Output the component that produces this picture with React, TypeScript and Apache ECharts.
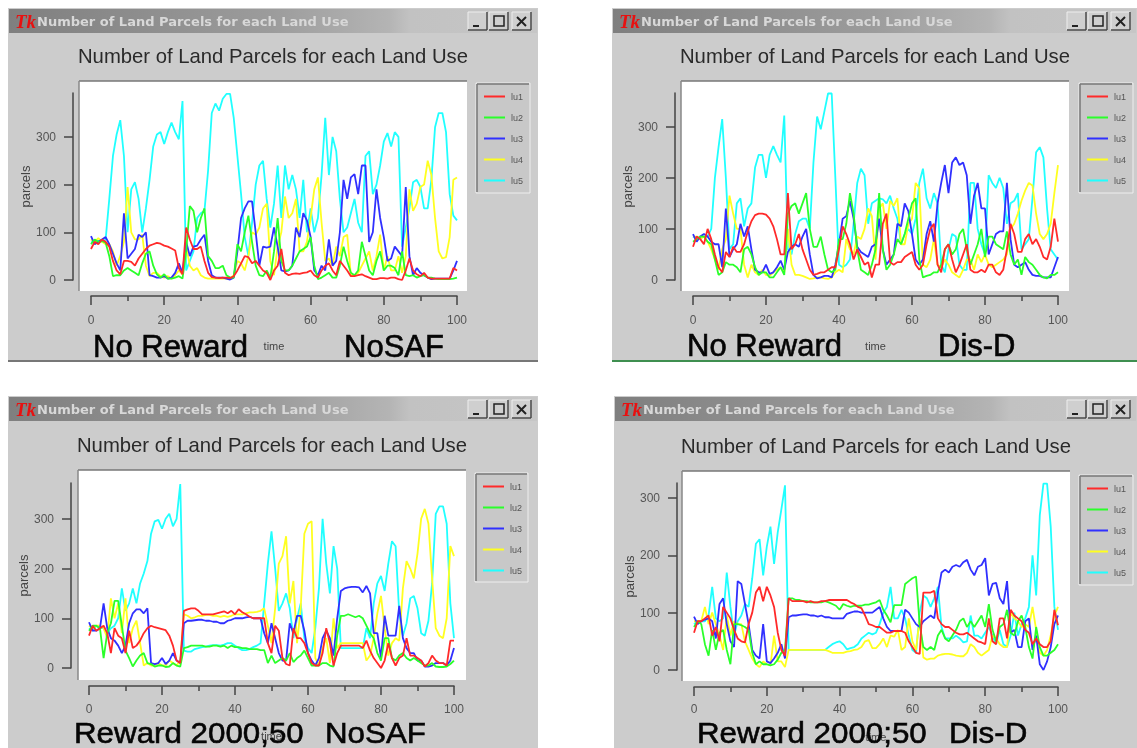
import React, { useEffect, useRef } from "react";
import * as echarts from "echarts";

const seriesNames = ["lu1", "lu2", "lu3", "lu4", "lu5"];
const chartTitle = "Number of Land Parcels for each Land Use";
const xLabelTicks = [0, 20, 40, 60, 80, 100];

// Panel 1: No Reward / NoSAF
const p1Lu1 = [65,80,75,85,80,70,40,20,12,40,
  40,38,30,45,55,65,72,75,78,76,
  72,70,66,62,25,12,110,85,65,65,
  70,40,15,6,5,4,5,5,4,8,
  20,35,50,48,35,40,30,20,15,0,
  20,30,65,15,10,13,14,13,15,16,
  20,10,5,20,30,35,20,10,40,30,
  20,8,8,10,12,8,5,2,2,4,
  4,3,5,5,2,0,20,45,20,12,
  8,15,5,3,3,3,3,3,3,25,20];
const p1Lu2 = [75,85,80,82,78,50,8,10,10,20,
  25,20,15,10,35,55,60,30,12,5,
  12,3,3,5,8,3,60,155,145,100,
  130,150,50,40,25,25,30,10,5,5,
  75,60,100,135,80,30,10,8,20,5,
  60,130,40,20,20,30,45,60,65,70,
  90,30,2,5,10,15,5,5,30,70,
  40,15,10,20,80,50,20,10,40,60,
  20,30,30,25,10,60,10,8,10,5,
  8,10,5,5,3,2,2,2,2,3,5];
const p1Lu3 = [92,75,80,85,90,75,55,35,20,140,
  45,55,65,95,90,100,10,8,5,5,
  8,3,5,15,35,15,80,50,70,72,
  85,95,40,10,5,5,5,3,1,5,
  60,130,150,165,165,100,30,70,68,70,
  110,70,20,18,20,30,110,90,140,125,
  90,20,10,30,20,85,30,40,100,210,
  170,215,222,180,240,240,80,100,190,130,
  90,40,45,70,60,50,195,50,10,25,
  15,10,5,2,3,3,3,3,3,20,40];
const p1Lu4 = [85,80,88,80,75,75,60,30,50,80,
  195,100,85,85,95,30,8,15,15,8,
  5,8,3,10,20,12,70,30,20,25,
  10,5,3,3,3,3,3,3,3,10,
  40,35,20,50,100,95,110,150,160,40,
  10,70,100,175,130,140,170,60,60,80,
  130,190,215,120,40,45,30,70,50,90,
  95,10,10,15,30,45,60,20,50,95,
  20,50,20,20,50,15,50,190,145,160,
  195,200,250,220,130,60,45,48,90,210,215];
const p1Lu5 = [80,78,82,80,85,170,260,305,335,260,
  100,190,205,170,100,150,210,280,305,310,
  285,310,330,310,295,375,20,40,60,130,
  140,145,230,350,370,355,380,390,390,340,
  260,180,90,50,120,200,240,250,170,110,
  160,240,130,240,190,220,190,130,210,100,
  150,100,130,220,340,220,300,270,170,100,
  110,140,170,120,100,260,270,180,200,240,
  290,308,280,310,300,70,110,150,205,210,
  195,150,150,210,320,350,350,310,180,135,125];

// Panel 2: No Reward / Dis-D
const p2Lu1 = [65,85,80,70,100,80,50,25,15,55,
  45,65,55,55,70,95,115,127,130,130,
  128,120,105,80,50,50,170,60,70,90,
  60,40,20,10,12,15,15,20,25,25,
  60,105,90,70,40,60,45,30,35,5,
  30,30,110,130,35,30,35,35,45,50,
  55,30,20,30,70,100,110,30,15,60,
  70,40,15,30,50,70,20,15,15,20,
  15,30,30,15,10,20,60,110,90,55,
  55,80,90,70,80,65,45,40,65,120,75];
const p2Lu2 = [75,80,85,85,75,70,40,10,15,35,
  30,30,25,15,60,65,50,25,10,15,
  15,5,5,15,25,10,130,145,150,130,
  150,170,100,65,65,85,50,20,15,20,
  80,80,110,170,130,60,20,15,10,30,
  60,170,60,20,30,50,80,70,90,120,
  150,160,40,5,8,10,15,15,30,60,
  70,50,60,90,100,60,30,50,70,100,
  45,85,85,70,65,60,95,50,30,40,
  10,45,35,30,20,10,5,3,10,10,15];
const p2Lu3 = [90,75,85,90,85,75,70,70,25,140,
  45,60,70,110,85,105,60,20,15,15,
  30,12,15,25,38,20,55,65,70,65,
  85,100,50,10,3,5,8,8,5,30,
  70,120,125,155,120,65,55,50,45,65,
  70,120,60,30,40,50,110,105,150,135,
  90,40,30,40,90,115,75,150,190,225,
  170,230,240,225,230,205,110,165,190,140,
  140,50,70,90,95,95,190,80,30,25,
  30,35,20,10,8,8,5,5,5,25,45];
const p2Lu4 = [85,85,80,85,75,60,40,20,60,80,
  165,130,100,100,30,5,30,15,10,20,
  10,8,15,20,25,15,100,30,10,10,
  8,5,2,3,5,5,3,2,5,15,
  20,15,80,60,50,85,80,100,140,125,
  40,140,150,100,155,145,160,70,70,110,
  120,190,180,30,25,40,80,30,25,40,
  30,15,10,5,20,40,40,20,50,35,
  50,30,25,30,35,40,50,100,110,130,
  155,175,190,185,130,90,80,90,110,170,225];
const p2Lu5 = [85,80,85,85,85,100,200,260,315,200,
  60,70,150,160,105,140,150,220,245,245,
  200,245,262,245,230,322,60,50,90,115,
  120,120,100,230,320,295,330,365,365,200,
  30,25,30,40,110,190,218,205,110,150,
  155,160,158,150,165,140,120,70,90,100,
  90,120,190,218,160,140,170,150,30,15,
  60,90,85,30,20,20,190,190,100,70,
  50,205,190,180,200,180,110,150,155,170,
  60,70,80,160,250,260,240,140,60,50,40];

// Panel 3: Reward 2000;50 / NoSAF
const p3Lu1 = [65,85,75,80,85,70,30,80,65,60,
  30,75,40,45,55,70,80,85,82,80,
  78,76,65,45,15,10,115,118,120,120,
  115,108,108,108,108,110,112,114,110,115,
  108,118,112,108,103,100,100,100,100,50,
  30,85,75,20,8,5,80,60,60,50,
  30,10,5,5,30,80,50,5,30,45,
  45,45,45,45,45,40,55,35,20,10,
  0,15,50,20,5,20,25,60,25,25,
  20,15,3,10,25,15,10,10,5,55,55];
const p3Lu2 = [75,85,85,80,20,70,90,135,135,85,
  35,20,3,15,25,30,10,8,3,5,
  5,2,3,10,5,3,40,42,45,45,
  45,45,43,43,45,45,43,45,40,45,
  42,42,40,40,38,38,38,36,36,10,
  25,10,15,20,15,30,12,20,25,35,
  20,5,5,5,10,10,5,3,65,105,
  105,108,105,102,105,100,85,70,60,30,
  15,60,60,20,15,25,30,20,15,20,
  15,10,5,5,10,3,2,2,3,8,15];
const p3Lu3 = [92,75,75,80,130,80,60,55,45,30,
  45,90,110,118,118,110,120,10,8,10,
  20,8,15,30,15,10,90,95,95,96,
  97,97,95,95,93,93,90,90,95,97,
  100,100,100,102,103,100,100,100,70,50,
  90,60,30,15,15,90,70,105,105,75,
  30,15,5,20,60,75,60,25,100,155,
  160,162,163,163,162,152,165,150,70,70,
  20,105,65,65,65,125,60,40,30,30,
  15,15,3,3,5,10,10,10,5,15,40];
const p3Lu4 = [85,80,85,85,80,60,140,100,130,70,
  140,50,80,95,50,5,10,5,5,10,
  5,5,15,10,5,15,108,105,100,102,
  105,105,107,107,105,105,103,105,103,105,
  108,108,108,110,112,112,113,115,120,85,
  50,120,210,225,265,130,175,50,120,270,
  290,295,20,5,40,60,10,100,40,50,
  50,50,50,50,50,50,15,25,60,110,
  145,80,25,50,60,55,160,215,200,180,
  230,300,320,290,180,80,65,60,100,245,225];
const p3Lu5 = [80,75,85,80,80,70,80,85,100,160,
  115,130,160,130,170,190,215,270,295,298,
  280,300,310,285,300,370,35,33,33,38,
  40,42,43,45,46,46,45,47,50,50,
  45,40,36,36,38,42,45,50,130,210,
  275,200,115,130,150,120,60,100,130,60,
  40,30,80,160,300,210,150,245,200,40,
  40,40,40,40,40,40,80,60,130,170,
  185,155,210,255,245,110,65,90,140,145,
  120,70,65,95,170,310,325,325,290,130,60];

// Panel 4: Reward 2000;50 / Dis-D
const p4Lu1 = [65,85,85,90,95,60,75,50,110,100,
  90,70,55,50,48,80,100,135,145,120,
  145,130,110,65,35,25,125,120,120,120,
  120,118,120,118,118,120,120,122,122,122,
  122,122,122,118,115,110,108,95,80,78,
  75,75,70,65,65,68,68,68,65,50,
  40,30,28,135,135,135,138,90,80,75,
  75,70,65,62,62,65,60,55,50,48,
  45,90,50,45,90,90,55,105,95,90,
  85,70,65,45,55,45,40,40,50,105,78];
const p4Lu2 = [75,85,80,45,25,70,35,65,70,35,
  10,80,80,78,75,70,30,10,15,10,
  10,8,10,18,30,35,125,125,122,122,
  120,120,118,118,118,118,120,118,115,112,
  105,115,112,110,112,112,112,114,114,116,
  118,122,105,95,83,113,113,113,150,155,
  160,163,80,40,35,40,35,60,70,55,
  50,60,70,85,90,75,85,75,85,95,
  75,115,70,50,75,80,105,65,60,85,
  95,75,40,20,75,40,25,25,30,35,45];
const p4Lu3 = [93,80,85,88,90,85,55,115,125,80,
  50,40,155,150,115,80,35,25,20,80,
  15,12,20,30,45,20,92,95,95,96,
  97,97,95,95,93,95,92,92,90,90,
  90,90,98,100,102,102,100,100,100,100,
  105,110,90,75,68,68,68,68,105,100,
  90,80,75,85,90,95,90,135,170,175,
  170,180,183,180,188,192,175,165,180,183,
  195,130,150,152,125,115,155,65,70,40,
  40,85,90,35,60,10,0,15,40,80,95];
const p4Lu4 = [85,85,85,110,80,100,80,60,35,95,
  60,85,80,80,50,35,20,10,5,15,
  10,8,60,15,15,5,35,35,35,35,
  35,35,35,35,35,35,35,33,30,30,
  30,30,32,33,35,36,40,50,52,38,
  38,45,55,40,60,58,70,35,40,90,
  50,35,90,22,18,20,20,25,27,28,
  28,27,25,24,24,30,45,40,30,25,
  30,35,60,55,45,40,40,100,90,85,
  75,80,75,110,70,30,25,35,60,95,110];
const p4Lu5 = [80,85,85,85,95,145,90,85,90,170,
  110,60,85,95,115,110,160,220,228,165,
  215,250,185,240,280,322,35,35,35,35,
  35,35,35,35,35,35,35,40,45,48,
  50,45,36,38,40,45,55,60,65,62,
  65,80,100,110,145,90,90,105,90,60,
  35,30,100,130,125,110,125,145,75,55,
  55,55,60,55,48,50,95,60,60,55,
  65,75,60,45,70,45,40,60,100,60,
  80,90,110,200,130,270,325,325,250,110,70];

const panelSeries = [
  [p1Lu1, p1Lu2, p1Lu3, p1Lu4, p1Lu5],
  [p2Lu1, p2Lu2, p2Lu3, p2Lu4, p2Lu5],
  [p3Lu1, p3Lu2, p3Lu3, p3Lu4, p3Lu5],
  [p4Lu1, p4Lu2, p4Lu3, p4Lu4, p4Lu5],
];
const yMajor = [
  [0, 100, 200, 300],
  [0, 100, 200, 300],
  [0, 100, 200, 300],
  [0, 100, 200, 300],
];
const yMinor = [
  [50, 150, 250, 350],
  [50, 150, 250, 350],
  [50, 150, 250, 350],
  [50, 150, 250],
];
const yMax = [392, 366, 372, 326];
const captions = [
  ["No Reward", "NoSAF"],
  ["No Reward", "Dis-D"],
  ["Reward 2000;50", "NoSAF"],
  ["Reward 2000;50", "Dis-D"],
];

// Layout (pixels)
const layouts = [
  { win: [8, 8, 538, 361], plot: [79, 81, 467, 291], gx: [91, 457], gy: [93, 280], ax: 73, xa: 296, leg: [476, 83, 530, 193], cap: [[93, 346], [344, 346]], capSize: 31, capStretch: 1, bottom: "#777777", titleTop: 46, labelGap: 18 },
  { win: [612, 8, 1137, 361], plot: [681, 81, 1069, 291], gx: [693, 1058], gy: [93, 280], ax: 675, xa: 296, leg: [1079, 83, 1133, 193], cap: [[687, 345], [938, 345]], capSize: 31, capStretch: 1, bottom: "#3f8f50", titleTop: 46, labelGap: 18 },
  { win: [8, 396, 538, 748], plot: [78, 470, 466, 680], gx: [89, 454], gy: [483, 668], ax: 71, xa: 686, leg: [475, 473, 528, 582], cap: [[74, 732], [325, 732]], capSize: 30, capStretch: 1.044, bottom: "", titleTop: 435, labelGap: 17 },
  { win: [614, 396, 1137, 748], plot: [682, 471, 1070, 681], gx: [694, 1058], gy: [483, 670], ax: 677, xa: 687, leg: [1079, 475, 1133, 585], cap: [[697, 732], [949, 732]], capSize: 30, capStretch: 1.044, bottom: "", titleTop: 436, labelGap: 16 },
];
const lineColors = ["#ff2a2a", "#2aff2a", "#3030ff", "#ffff20", "#20ffff"];
const FONT = "Liberation Sans";

function winGraphics(i: number) {
  const L = layouts[i];
  const [x0, y0, x1, y1] = L.win;
  const [px0, py0, px1, py1] = L.plot;
  const [lx0, ly0, lx1, ly1] = L.leg;
  const els: any[] = [];
  const rect = (x: number, y: number, w: number, h: number, style: any, z = 0) =>
    els.push({ type: "rect", shape: { x, y, width: w, height: h }, style, z, silent: true });
  const line = (a: number, b: number, c: number, d: number, stroke: string, lineWidth = 1, z = 1) =>
    els.push({ type: "line", shape: { x1: a, y1: b, x2: c, y2: d }, style: { stroke, lineWidth }, z, silent: true });
  rect(x0, y0, x1 - x0, y1 - y0, { fill: "#cccccc" });
  rect(x0 + 1, y0 + 1, x1 - x0 - 2, 24, {
    fill: new echarts.graphic.LinearGradient(0, 0, 1, 0, [
      { offset: 0, color: "#7f7f7f" },
      { offset: 0.5, color: "#9c9c9c" },
      { offset: 0.72, color: "#b4b4b4" },
      { offset: 0.76, color: "#c2c2c2" },
      { offset: 1, color: "#c6c6c6" },
    ]),
  }, 1);
  if (L.bottom) line(x0, y1, x1, y1, L.bottom, 2, 2);
  // logo and window title
  els.push({ type: "text", z: 3, silent: true, style: { x: x0 + 7, y: y0 + 13, text: "Tk", fill: "#e81010", font: 'italic bold 19px "Liberation Serif"', verticalAlign: "middle" } });
  els.push({ type: "text", z: 3, silent: true, style: { x: x0 + 29, y: y0 + 13, text: chartTitle, fill: "#d8d8d8", font: 'bold 13px "DejaVu Sans"', verticalAlign: "middle" } });
  // window buttons
  const bx = x1 - 70;
  [0, 21, 44].forEach((dx) => {
    rect(bx + dx, y0 + 4, 19, 18, { fill: "#cfcfcf", stroke: "#eeeeee", lineWidth: 1 }, 3);
    line(bx + dx, y0 + 22, bx + dx + 19, y0 + 22, "#444444", 1.5, 4);
    line(bx + dx + 19, y0 + 4, bx + dx + 19, y0 + 22, "#444444", 1.5, 4);
  });
  line(bx + 5, y0 + 18, bx + 11, y0 + 18, "#222222", 2, 5);
  rect(bx + 26, y0 + 8, 10, 10, { fill: "none", stroke: "#222222", lineWidth: 1.5 }, 5);
  line(bx + 49, y0 + 9, bx + 58, y0 + 18, "#222222", 2, 5);
  line(bx + 58, y0 + 9, bx + 49, y0 + 18, "#222222", 2, 5);
  // plot background
  rect(px0, py0, px1 - px0, py1 - py0, { fill: "#ffffff" }, 1);
  line(px0, py0, px1, py0, "#777777", 1.5, 2);
  line(px0, py0, px0, py1, "#888888", 1.5, 2);
  // legend frame
  rect(lx0, ly0, lx1 - lx0, ly1 - ly0, { fill: "#c8c8c8", stroke: "#eeeeee", lineWidth: 1 }, 1);
  line(lx0 + 1, ly0 + 1, lx1 - 1, ly0 + 1, "#777777", 1.5, 2);
  line(lx0 + 1, ly0 + 1, lx0 + 1, ly1 - 1, "#777777", 1.5, 2);
  // captions
  captions[i].forEach((text, k) => {
    els.push({
      type: "text", z: 50, silent: true, x: L.cap[k][0], y: L.cap[k][1], scaleX: L.capStretch,
      style: { x: 0, y: 0, text, fill: "#050505", stroke: "#050505", lineWidth: 0.6, font: `${L.capSize}px "${FONT}"`, verticalAlign: "middle" },
    });
  });
  return els;
}

function buildOption() {
  const grid: any[] = [];
  const xAxis: any[] = [];
  const yAxis: any[] = [];
  const series: any[] = [];
  const title: any[] = [];
  const legend: any[] = [];
  const graphic: any[] = [];
  layouts.forEach((L, i) => {
    grid.push({ left: L.gx[0], top: L.gy[0], width: L.gx[1] - L.gx[0], height: L.gy[1] - L.gy[0] });
    const axisText = { color: "#555555", fontSize: 12, fontFamily: FONT };
    const axisLine = { show: true, lineStyle: { color: "#444444", width: 1.5 } };
    xAxis.push({
      type: "value", gridIndex: i, min: 0, max: 100, interval: 20,
      position: "bottom", offset: L.xa - L.gy[1],
      name: "time", nameLocation: "middle", nameGap: 44,
      nameTextStyle: { color: "#444444", fontSize: 11, fontFamily: FONT },
      axisLine: { ...axisLine, onZero: false },
      axisTick: { show: true, length: 9, lineStyle: { color: "#444444", width: 1.5 } },
      minorTick: { show: true, splitNumber: 2, length: 5, lineStyle: { color: "#444444", width: 1.5 } },
      axisLabel: { ...axisText, margin: L.labelGap, customValues: xLabelTicks },
      splitLine: { show: false }, minorSplitLine: { show: false },
    });
    yAxis.push({
      type: "value", gridIndex: i, min: 0, max: yMax[i], position: "left", offset: L.gx[0] - L.ax,
      name: "parcels", nameLocation: "middle", nameGap: 40, nameRotate: 90,
      nameTextStyle: { color: "#444444", fontSize: 13, fontFamily: FONT },
      axisLine: { ...axisLine, onZero: false },
      axisTick: { show: true, length: 9, customValues: yMajor[i], lineStyle: { color: "#444444", width: 1.5 } },
      axisLabel: { ...axisText, margin: 17, customValues: yMajor[i] },
      splitLine: { show: false },
    });
    yAxis.push({
      type: "value", gridIndex: i, min: 0, max: yMax[i], position: "left", offset: L.gx[0] - L.ax,
      axisLine: { show: false },
      axisTick: { show: true, length: 5, customValues: yMinor[i], lineStyle: { color: "#444444", width: 1.5 } },
      axisLabel: { show: false },
      splitLine: { show: false },
    });
    title.push({
      text: chartTitle, left: (L.plot[0] + L.plot[2]) / 2, top: L.titleTop, textAlign: "center",
      textStyle: { color: "#2a2a2a", fontSize: 20.3, fontWeight: "normal", fontFamily: FONT },
      padding: 0,
    });
    legend.push({
      orient: "vertical", left: L.leg[0] + 8, top: L.leg[1] + 9, padding: 0, itemGap: 12,
      itemWidth: 21, itemHeight: 2, icon: "rect", selectedMode: false, data: seriesNames,
      textStyle: { color: "#555555", fontSize: 9, fontFamily: FONT, padding: [0, 0, 0, 1] },
    });
    panelSeries[i].forEach((vals, k) => {
      series.push({
        type: "line", name: seriesNames[k], xAxisIndex: i, yAxisIndex: i * 2,
        data: vals.map((v, t) => [t, v]), symbol: "none", showSymbol: false,
        z: 10 - k, clip: false,
        lineStyle: { color: lineColors[k], width: 1.8 },
        itemStyle: { color: lineColors[k] },
      });
    });
    graphic.push(...winGraphics(i));
  });
  return { animation: false, backgroundColor: "#ffffff", grid, xAxis, yAxis, series, title, legend, graphic: { elements: graphic } };
}

export default function App() {
  const ref = useRef<HTMLDivElement>(null);
  useEffect(() => {
    document.body.style.margin = "0";
    const chart = echarts.init(ref.current!, null, { renderer: "svg" });
    chart.setOption(buildOption() as any);
    return () => chart.dispose();
  }, []);
  return <div ref={ref} style={{ width: 1137, height: 748, overflow: "hidden", filter: "blur(0.5px)" }} />;
}
